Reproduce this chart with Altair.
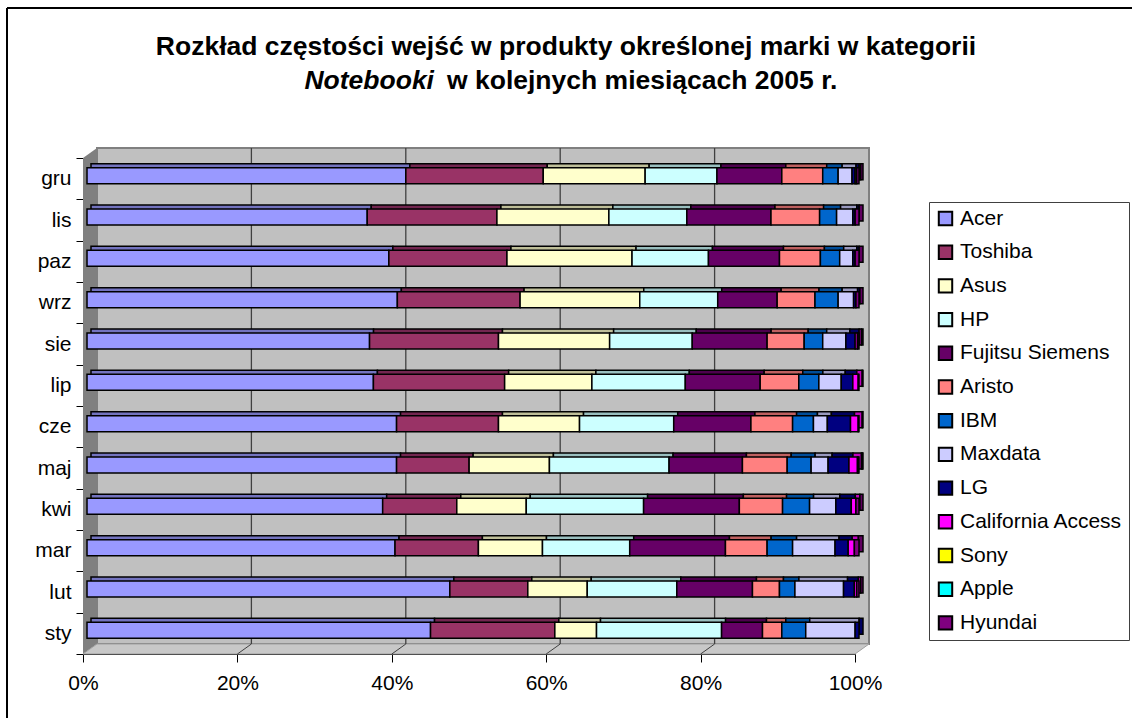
import altair as alt
import pandas as pd

FONT = "Liberation Sans"

months = ["sty", "lut", "mar", "kwi", "maj", "cze", "lip", "sie", "wrz", "paz", "lis", "gru"]
brands = ["Acer", "Toshiba", "Asus", "HP", "Fujitsu Siemens", "Aristo", "IBM", "Maxdata",
          "LG", "California Access", "Sony", "Apple", "Hyundai"]
colors = ["#9999FF", "#993366", "#FFFFCC", "#CCFFFF", "#660066", "#FF8080", "#0066CC",
          "#CCCCFF", "#000080", "#FF00FF", "#FFFF00", "#00FFFF", "#800080"]
top_colors = ["#7373BF", "#732650", "#BFBF99", "#99BFBF", "#4D004D", "#BF6060", "#004D99",
              "#9999BF", "#000060", "#BF00BF", "#BFBF00", "#00BFBF", "#600060"]

# percentages per month (sty .. gru)
acer = [44.5, 47.0, 39.9, 38.3, 40.1, 40.1, 37.1, 36.6, 40.2, 39.1, 36.3, 41.3]
toshiba = [16.1, 10.1, 10.8, 9.6, 9.4, 13.2, 17.0, 16.7, 15.9, 15.3, 16.8, 17.8]
asus = [5.4, 7.7, 8.3, 9.0, 10.4, 10.5, 11.3, 14.4, 15.5, 16.2, 14.5, 13.2]
hp = [16.2, 11.6, 11.3, 15.2, 15.5, 12.2, 12.1, 10.7, 10.1, 9.9, 10.1, 9.3]
fujitsu = [5.3, 9.8, 12.4, 12.4, 9.5, 10.0, 9.7, 9.7, 7.7, 9.2, 10.9, 8.4]
aristo = [2.5, 3.5, 5.4, 5.6, 5.8, 5.4, 5.0, 4.8, 4.9, 5.3, 6.3, 5.3]
ibm = [3.1, 2.0, 3.3, 3.5, 3.1, 2.7, 2.6, 2.4, 3.0, 2.5, 2.2, 2.0]
maxdata = [6.4, 6.3, 5.5, 3.4, 2.2, 1.8, 2.9, 3.0, 2.0, 1.7, 2.1, 1.8]
lg = [0.5, 1.4, 1.7, 2.0, 2.7, 3.0, 1.5, 1.2, 0.3, 0.3, 0.3, 0.4]
california = [0.0, 0.3, 0.8, 0.6, 1.1, 1.0, 0.7, 0.3, 0.0, 0.0, 0.0, 0.0]
sony = [0.0, 0.0, 0.0, 0.0, 0.1, 0.0, 0.0, 0.0, 0.0, 0.0, 0.0, 0.2]
apple = [0.0, 0.0, 0.0, 0.0, 0.0, 0.0, 0.0, 0.0, 0.0, 0.0, 0.0, 0.0]
hyundai = [0.0, 0.3, 0.6, 0.4, 0.1, 0.1, 0.1, 0.2, 0.4, 0.5, 0.5, 0.3]

series = [acer, toshiba, asus, hp, fujitsu, aristo, ibm, maxdata, lg, california, sony, apple, hyundai]

x_ticks = [0, 0.2, 0.4, 0.6, 0.8, 1.0]
grid_vals = [0.2, 0.4, 0.6, 0.8]

title1 = "Rozkład częstości wejść w produkty określonej marki w kategorii"
title2a = "Notebooki"
title2b = "w kolejnych miesiącach 2005 r."

rows = []
for i, (b, vals) in enumerate(zip(brands, series)):
    for m, v in zip(months, vals):
        if v > 0:
            rows.append({"month": m, "brand": b, "value": v, "order": i, "top": top_colors[i]})
df = pd.DataFrame(rows)

W, H = 772, 496
DX, DY = 14, -10  # depth of the 3D walls (px)

x_axis = alt.Axis(title=None, values=x_ticks, format="%", labelFont=FONT, labelFontSize=21,
                  labelColor="black", domainColor="black", tickColor="black", tickSize=8,
                  labelPadding=10, grid=False, labelFlush=False)
y_axis = alt.Axis(title=None, labelFont=FONT, labelFontSize=21, labelColor="black",
                  domainColor="black", tickColor="black", tickSize=7, labelPadding=5,
                  tickBand="extent", grid=False)
x_scale = alt.Scale(domain=[0, 1], nice=False)
y_scale = alt.Scale(paddingInner=0, paddingOuter=0)

x_enc = alt.X("value:Q", stack="normalize", scale=x_scale, axis=x_axis)
y_enc = alt.Y("month:N", sort=months[::-1], scale=y_scale, axis=y_axis)

# walls
back_wall = alt.Chart(pd.DataFrame({"a": [0]})).mark_rect(
    fill="#C0C0C0", stroke="#808080", strokeWidth=2
).encode(x=alt.value(DX), x2=alt.value(W + DX), y=alt.value(DY), y2=alt.value(H + DY))

left_wall = alt.Chart(pd.DataFrame({
    "px": [0, DX], "py": [0, DY], "py2": [H, H + DY]
})).mark_area(fill="#808080", orient="vertical").encode(
    x=alt.X("px:Q", scale=None, axis=None),
    y=alt.Y("py:Q", scale=None, axis=None),
    y2="py2:Q",
)

floor = alt.Chart(pd.DataFrame({
    "px": [0, DX, W, W + DX], "py": [H, H + DY, H + DY, H + DY], "py2": [H, H, H, H + DY]
})).mark_area(fill="#C8C8C8", stroke="#A0A0A0", strokeWidth=1, orient="vertical").encode(
    x=alt.X("px:Q", scale=None, axis=None),
    y=alt.Y("py:Q", scale=None, axis=None),
    y2="py2:Q",
)

grid_df = pd.DataFrame({"g": grid_vals})
grid = alt.Chart(grid_df).mark_rule(color="#404040", strokeWidth=1.3, xOffset=DX).encode(
    x=alt.X("g:Q", scale=x_scale, axis=x_axis), y=alt.value(DY), y2=alt.value(H + DY)
)
floor_grid = alt.Chart(grid_df).mark_rule(color="#404040", strokeWidth=1, x2Offset=DX).encode(
    x=alt.X("g:Q", scale=x_scale, axis=x_axis), x2="g:Q", y=alt.value(H), y2=alt.value(H + DY)
)

# bars: back copy (3D top / side) and front face
bars_back = alt.Chart(df).mark_bar(size=16, xOffset=8, yOffset=-7, stroke="black",
                                   strokeWidth=1.5).encode(
    x=x_enc, y=y_enc,
    fill=alt.Fill("top:N", scale=None),
    order=alt.Order("order:Q", sort="ascending"),
)

bars_front = alt.Chart(df).mark_bar(size=16, xOffset=4, yOffset=-3, stroke="black",
                                    strokeWidth=1.5).encode(
    x=x_enc, y=y_enc,
    fill=alt.Fill("brand:N", scale=alt.Scale(domain=brands, range=colors),
                  legend=alt.Legend(
                      title=None, orient="none", legendX=846, legendY=44,
                      direction="vertical", symbolType="square", symbolSize=180,
                      symbolStrokeColor="black", symbolStrokeWidth=2, symbolOpacity=1,
                      labelFont=FONT, labelFontSize=21, labelColor="black",
                      labelLimit=400, labelOffset=4, rowPadding=10.7, padding=6,
                      strokeColor="#404040", fillColor="white", values=brands)),
    order=alt.Order("order:Q", sort="ascending"),
)

# chart frame
frame_top = alt.Chart(pd.DataFrame({"a": [0]})).mark_rule(color="black", strokeWidth=2).encode(
    x=alt.value(-76), x2=alt.value(1132 - 83 + 10), y=alt.value(-150)
)
frame_left = alt.Chart(pd.DataFrame({"a": [0]})).mark_rule(color="black", strokeWidth=2).encode(
    x=alt.value(-76), y=alt.value(-150), y2=alt.value(718 - 158 + 10)
)

# title
t1 = alt.Chart(pd.DataFrame({"a": [0]})).mark_text(
    font=FONT, fontSize=26.5, fontWeight="bold", align="center", baseline="alphabetic", color="black"
).encode(x=alt.value(566 - 83), y=alt.value(55 - 158), text=alt.value(title1))
t2a = alt.Chart(pd.DataFrame({"a": [0]})).mark_text(
    font=FONT, fontSize=26.5, fontWeight="bold", fontStyle="italic", align="right",
    baseline="alphabetic", color="black"
).encode(x=alt.value(434 - 83), y=alt.value(89 - 158), text=alt.value(title2a))
t2b = alt.Chart(pd.DataFrame({"a": [0]})).mark_text(
    font=FONT, fontSize=26.5, fontWeight="bold", align="left", baseline="alphabetic", color="black"
).encode(x=alt.value(447 - 83), y=alt.value(89 - 158), text=alt.value(title2b))

chart = alt.layer(
    back_wall, left_wall, floor, grid, floor_grid, bars_back, bars_front,
    frame_top, frame_left, t1, t2a, t2b
).properties(
    width=W, height=H,
    padding={"left": 83, "top": 158, "right": 1132 - 83 - W, "bottom": 718 - 158 - H},
    autosize=alt.AutoSizeParams(type="none"),
    background="white",
).configure_view(stroke=None)

chart.save("out.html", embed_options={"renderer": "svg", "actions": False})
